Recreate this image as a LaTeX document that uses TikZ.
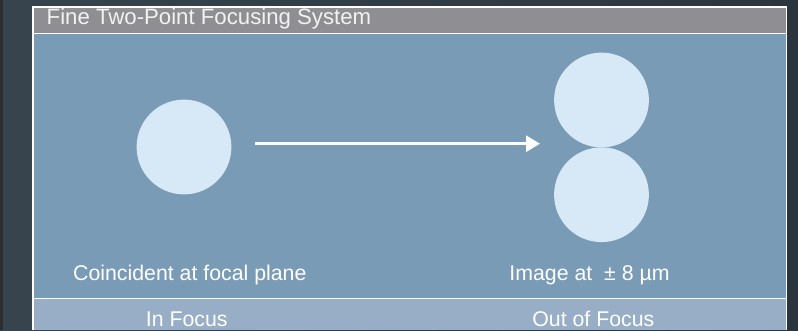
\documentclass[tikz,border=0pt]{standalone}
\usepackage{fontspec}
\setmainfont{Liberation Sans}
\usetikzlibrary{arrows.meta}
\definecolor{bgL}{HTML}{37444E}
\definecolor{bgR}{HTML}{2B353D}
\definecolor{edge}{HTML}{2C2E2F}
\definecolor{titlegrey}{HTML}{8F8E92}
\definecolor{panelblue}{HTML}{7A9BB6}
\definecolor{bandblue}{HTML}{97AEC6}
\definecolor{spot}{HTML}{D7E8F6}
\tikzset{
  spotnode/.style={circle,fill=spot,draw=none,inner sep=0pt,minimum size=94.8pt},
  lbl/.style={text=white,inner sep=0pt,anchor=base,font=\fontsize{21.3}{24}\selectfont},
  arr/.style={draw=white,line width=3pt,-{Triangle[length=14pt,width=16pt]}}
}
\begin{document}
\begin{tikzpicture}[x=1pt,y=-1pt]
\useasboundingbox (0,0) rectangle (798,330);
\shade[left color=bgL,right color=bgR] (0,0) rectangle (798,330);
\fill[edge] (0,0) rectangle (3,330);
\fill[white] (32,6) rectangle (787,330);
\fill[titlegrey] (33.5,7.5) rectangle (785.5,32.6);
\fill[panelblue] (33.5,34) rectangle (785.5,297.6);
\fill[bandblue] (33.5,299.2) rectangle (785.5,330);
\node[text=white!95!black,inner sep=0pt,anchor=base west,font=\fontsize{22.2}{24}\selectfont] (title) at (46.5,24.6) {Fine Two-Point Focusing System};
\node[spotnode] (left) at (184,147) {};
\node[spotnode] (top) at (601.5,100) {};
\node[spotnode] (bottom) at (601.5,194.7) {};
\coordinate (as) at (255,143.7);
\coordinate (ae) at (540,143.7);
\draw[arr] (as) -- (ae);
\node[lbl] (l1) at (189.8,280.5) {Coincident at focal plane};
\node[lbl] (l2) at (589.5,280.5) {Image at\ \ ± 8 µm};
\node[lbl] (l3) at (186.7,326) {In Focus};
\node[lbl] (l4) at (593.3,326) {Out of Focus};
\end{tikzpicture}
\end{document}
